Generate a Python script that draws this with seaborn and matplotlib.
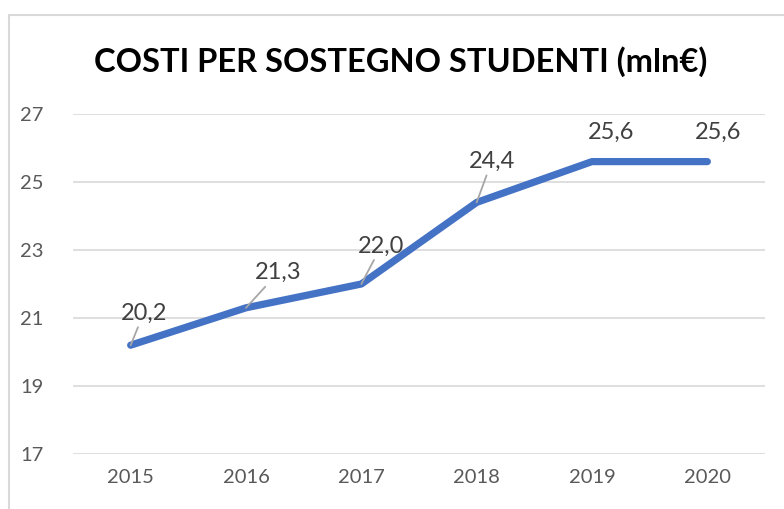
import matplotlib
matplotlib.use("Agg")
import matplotlib.pyplot as plt
import seaborn as sns
import pandas as pd
from matplotlib.patches import Rectangle

years = ["2015", "2016", "2017", "2018", "2019", "2020"]
costs = [20.2, 21.3, 22.0, 24.4, 25.6, 25.6]
value_labels = ["20,2", "21,3", "22,0", "24,4", "25,6", "25,6"]
y_ticks = [17, 19, 21, 23, 25, 27]
title = "COSTI PER SOSTEGNO STUDENTI (mln€)"

# label offsets in pixels (dx, dy up) and leader-line visibility
label_offsets = [(13, 32), (32, 35), (20, 38), (15, 41), (19, 29), (11, 29)]
show_leader = [True, True, True, True, False, False]

sns.set_theme(style="white")
plt.rcParams["font.family"] = ["Lato", "DejaVu Sans"]

df = pd.DataFrame({"year": years, "cost": costs})

fig = plt.figure(figsize=(7.84, 5.09), dpi=100)
ax = fig.add_axes([73 / 784, 1 - 454 / 509, 692 / 784, 340 / 509])

sns.lineplot(data=df, x="year", y="cost", ax=ax, color="#4472C4", linewidth=5.2,
             solid_capstyle="round", solid_joinstyle="round", zorder=3)

ax.set_xlim(-0.5, len(years) - 0.5)
ax.set_ylim(17, 27)
ax.set_yticks(y_ticks)
ax.set_yticklabels([str(t) for t in y_ticks])
ax.yaxis.grid(True, color="#D9D9D9", linewidth=1.2)
ax.xaxis.grid(False)
for s in ax.spines.values():
    s.set_visible(False)
ax.tick_params(axis="y", length=0, pad=21, labelsize=14.5, labelcolor="#595959")
ax.tick_params(axis="x", length=0, pad=11, labelsize=14.5, labelcolor="#595959")
ax.set_xlabel("")
ax.set_ylabel("")

px2pt = 72 / 100
for i, (lab, v) in enumerate(zip(value_labels, costs)):
    dx, dy = label_offsets[i]
    ax.annotate(lab, xy=(i, v), xytext=(dx * px2pt, dy * px2pt),
                textcoords="offset points", ha="center", va="center",
                fontsize=17, color="#404040", zorder=5)
    if show_leader[i]:
        dist = (dx ** 2 + dy ** 2) ** 0.5
        shrink_px = dist * 14 / dy
        ax.annotate("", xy=(i, v), xytext=(dx * px2pt, dy * px2pt),
                    textcoords="offset points", zorder=4,
                    arrowprops=dict(arrowstyle="-", color="#A6A6A6", lw=1.3,
                                    patchA=None, shrinkA=shrink_px * px2pt,
                                    shrinkB=0))

fig.text(401 / 784, 1 - 72 / 509, title, ha="center", va="baseline",
         fontsize=23.5, fontweight="bold", color="black")

# chart frame (extends past the image edge)
fig.patches.append(Rectangle((9 / 784, -0.1), 1.2, 1 - 15 / 509 + 0.1,
                             transform=fig.transFigure, fill=False,
                             edgecolor="#D9D9D9", linewidth=1.5))

fig.savefig("out.png", dpi=100)
